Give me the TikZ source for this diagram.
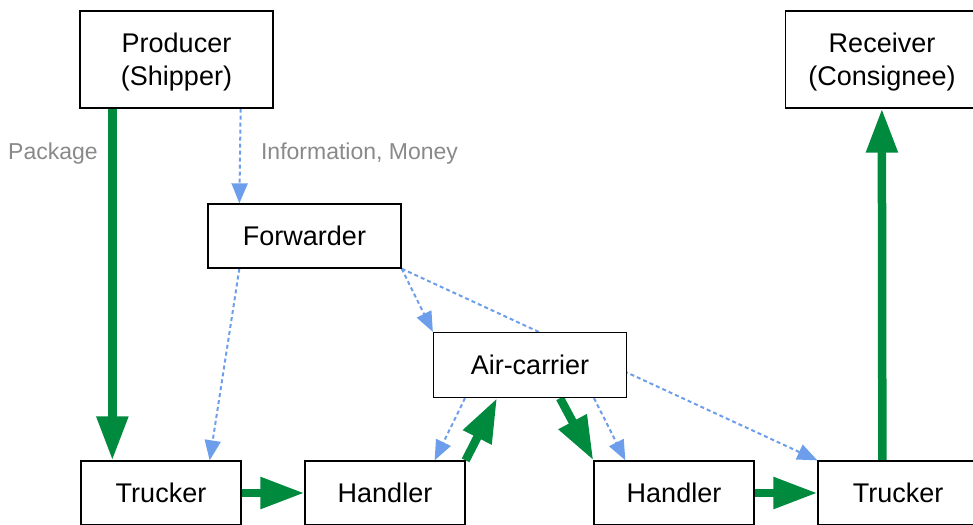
\documentclass[tikz,border=0pt]{standalone}
\usepackage{fontspec}
\setmainfont{Liberation Sans}
\usetikzlibrary{arrows.meta}
\definecolor{flowgreen}{RGB}{0,138,62}
\definecolor{infoblue}{RGB}{109,158,235}
\definecolor{labelgray}{RGB}{137,137,137}
\pgfdeclarelayer{bg}
\pgfsetlayers{bg,main}
% a little extra room above the first of two lines
\newcommand{\firstlinegap}{\rule{0pt}{24pt}}
\begin{document}
\begin{tikzpicture}[x=1pt,y=-1pt,
  box/.style={draw=black, line width=1.3pt, fill=white, inner sep=0pt, align=center,
    font=\fontsize{27}{33}\selectfont},
  goods/.style={draw=flowgreen, line width=8.5pt, -{Triangle[length=44pt,width=30pt]}},
  info/.style={draw=infoblue, line width=2pt, dash pattern=on 4pt off 3pt,
    -{Triangle[length=20pt,width=16pt]}},
  tag/.style={text=labelgray, inner sep=0pt, font=\fontsize{23}{27}\selectfont}]
\useasboundingbox (0,0) rectangle (973,524);
\clip (0,0) rectangle (973,524);

% parties in the chain
\node[box, minimum width=193pt, minimum height=97pt] (prod) at (176.5,59.5) {\firstlinegap Producer\\(Shipper)};
\node[box, minimum width=193pt, minimum height=97pt] (recv) at (882,59.5) {\firstlinegap Receiver\\(Consignee)};
\node[box, minimum width=193pt, minimum height=64pt] (fwd) at (304.5,236) {Forwarder};
\node[box, minimum width=193pt, minimum height=65pt] (air) at (530,365) {Air-carrier};
\node[box, minimum width=160pt, minimum height=64pt] (trk1) at (161,493) {Trucker};
\node[box, minimum width=160pt, minimum height=64pt] (hnd1) at (385,493) {Handler};
\node[box, minimum width=160pt, minimum height=64pt] (hnd2) at (674,493) {Handler};
\node[box, minimum width=160pt, minimum height=64pt] (trk2) at (898,493) {Trucker};

% legend labels
\node[tag] (pkg) at (53,154) {Package};
\node[tag] (infomoney) at (359.5,154) {Information, Money};

\begin{pgfonlayer}{bg}
  % flow of the package
  \draw[goods] ([xshift=33pt]prod.south west) -- ([xshift=32pt]trk1.north west);
  \draw[goods] (trk1.east) -- (hnd1.west);
  \draw[goods] (hnd1.north east) -- ([xshift=-33pt]air.south);
  \draw[goods] ([xshift=30pt]air.south) -- (hnd2.north west);
  \draw[goods] (hnd2.east) -- (trk2.west);
  \draw[goods] ([xshift=65pt]trk2.north west) -- ([xshift=97pt]recv.south west);
  % flow of information and money
  \draw[info] ([xshift=-33pt]prod.south east) -- ([xshift=32pt]fwd.north west);
  \draw[info] ([xshift=32pt]fwd.south west) -- ([xshift=-32pt]trk1.north east);
  \draw[info] (fwd.south east) -- (air.north west);
  \draw[info] (fwd.south east) -- (trk2.north west);
  \draw[info] ([xshift=-65pt]air.south) -- ([xshift=-31pt]hnd1.north east);
  \draw[info] ([xshift=64pt]air.south) -- ([xshift=32pt]hnd2.north west);
\end{pgfonlayer}
\end{tikzpicture}
\end{document}
